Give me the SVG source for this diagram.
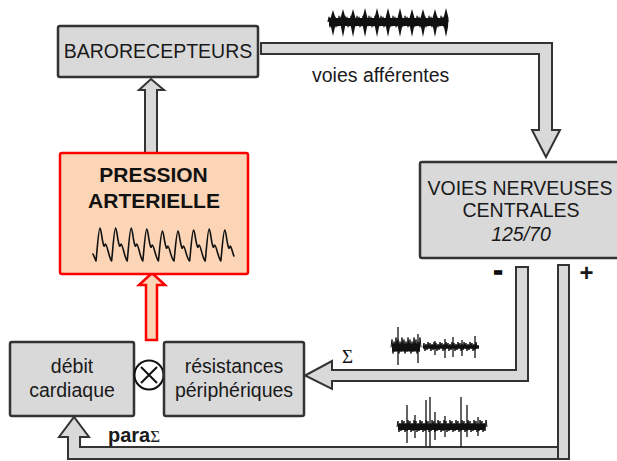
<svg xmlns="http://www.w3.org/2000/svg" width="617" height="461" viewBox="0 0 617 461">
<style>
.box{fill:#d9d9d9;stroke:#333;stroke-width:2.5}
.pipe{fill:#d9d9d9;stroke:#333;stroke-width:2}
.t{font-family:"Liberation Sans",Arial,sans-serif;font-size:19.5px;fill:#1a1a1a;text-anchor:middle}
.b{font-weight:bold;font-size:21px;fill:#111}
.sig{fill:none;stroke:#111;stroke-linejoin:round}
.spk{fill:none;stroke:#111;stroke-width:1.3}
</style>
<rect width="617" height="461" fill="#fff"/>
<g id="connectors">
<path class="pipe" d="M261,43H552V130H560L546,157L532,130H539V54H261Z"/>
<path class="pipe" d="M145,153V90H139L151,79L164,90H157V153Z"/>
<path d="M146,340V285H139L152,273L165,285H157V340Z" fill="#fbd5b5" stroke="#f00" stroke-width="2.5"/>
<path class="pipe" d="M516,267H528V381H332V389L305,375.5L332,361V370H516Z"/>
<path class="pipe" d="M558,265H569V459H68V437H59L74,417L89,437H80V447H558Z"/>
<line x1="558" y1="447" x2="558" y2="459" stroke="#333" stroke-width="2"/>
</g>
<g id="barorecepteurs">
<rect class="box" x="58" y="26" width="200" height="51" rx="2"/>
<text class="t" x="158" y="58">BARORECEPTEURS</text>
</g>
<g id="pression-arterielle">
<rect x="60" y="153" width="188" height="121" rx="2" fill="#fbd5b5" stroke="#f00" stroke-width="2.5"/>
<text class="t b" x="153.5" y="182">PRESSION</text>
<text class="t b" x="154" y="208">ARTERIELLE</text>
<path class="sig" stroke="#222" stroke-width="1.6" stroke-linecap="round" d="M93,254L96,261c1,-8 2.5,-33 4,-33c1.2,0 2,14 4,18c.6,1 1,-2 1.5,-2c1.5,0 3.5,14 6.1,17c1,-8 2.5,-33 4,-33c1.2,0 2,14 4,18c.6,1 1,-2 1.5,-2c1.5,0 3.5,14 6.1,17c1,-8 2.5,-33 4,-33c1.2,0 2,14 4,18c.6,1 1,-2 1.5,-2c1.5,0 3.5,14 6.1,17c1,-8 2.5,-32 4,-32c1.2,0 2,14 4,18c.6,1 1,-2 1.5,-2c1.5,0 3.5,13 6.1,16c1,-8 2.5,-30 4,-30c1.2,0 2,13 4,17c.6,1 1,-2 1.5,-2c1.5,0 3.5,14 6.1,15c1,-8 2.5,-30 4,-30c1.2,0 2,13 4,17c.6,1 1,-2 1.5,-2c1.5,0 3.5,14 6.1,15c1,-8 2.5,-31 4,-31c1.2,0 2,13 4,17c.6,1 1,-2 1.5,-2c1.5,0 3.5,14 6.1,16c1,-8 2.5,-32 4,-32c1.2,0 2,14 4,18c.6,1 1,-2 1.5,-2c1.5,0 3.5,13 6.1,16c1,-8 2.5,-31 4,-31c1.2,0 2,14 4,18c.6,1 1,-2 1.5,-2c1,0 2.5,8 3.6,10"/>
</g>
<g id="voies-nerveuses-centrales">
<rect class="box" x="420" y="162" width="200" height="96" rx="2"/>
<text class="t" x="520" y="195">VOIES NERVEUSES</text>
<text class="t" x="521" y="217">CENTRALES</text>
<text class="t" x="521" y="241" font-style="italic">125/70</text>
</g>
<g id="debit-cardiaque">
<rect class="box" x="10" y="342" width="124" height="74" rx="2"/>
<text class="t" x="72" y="373">débit</text>
<text class="t" x="72" y="397">cardiaque</text>
</g>
<g id="multiplication">
<circle cx="149" cy="375" r="14.5" fill="#fff" stroke="#111" stroke-width="2"/>
<path d="M141,367L157,383M157,367L141,383" stroke="#111" stroke-width="2"/>
</g>
<g id="resistances-peripheriques">
<rect class="box" x="164" y="342" width="140" height="74" rx="2"/>
<text class="t" x="234" y="373">résistances</text>
<text class="t" x="234" y="397">périphériques</text>
</g>
<g id="labels">
<text class="t" x="312" y="82" style="text-anchor:start">voies afférentes</text>
<text class="t" x="498" y="279" font-weight="bold" style="font-size:26px" stroke="#000" stroke-width="1.5">-</text>
<text class="t" x="586.5" y="281" font-weight="bold" style="font-size:24px">+</text>
<text x="342" y="363" font-family="'Liberation Serif',serif" font-size="19" fill="#111">Σ</text>
<text class="t" x="108" y="442" font-weight="bold" style="text-anchor:start;font-size:20px">para<tspan font-weight="normal" font-family="'Liberation Serif',serif" font-size="17">Σ</tspan></text>
</g>
<g id="signal-afferent">
<path d="M329,22H447" stroke="#111" stroke-width="8"/>
<path class="sig" stroke-width="1.2" d="M328,22l1,-5 1,10 1,-8 1,7 1,-10 1,6 1,-5 1,10 1,-8 1,7 1,-10 1,6 1,-5 1,10 1,-8 1,7 1,-10 1,6 1,-5 1,10 1,-8 1,7 1,-10 1,6 1,-5 1,10 1,-8 1,7 1,-10 1,6 1,-5 1,10 1,-8 1,7 1,-10 1,6 1,-5 1,10 1,-8 1,7 1,-10 1,6 1,-5 1,10 1,-8 1,7 1,-10 1,6 1,-5 1,10 1,-8 1,7 1,-10 1,6 1,-5 1,10 1,-8 1,7 1,-10 1,6 1,-5 1,10 1,-8 1,7 1,-10 1,6 1,-5 1,10 1,-8 1,7 1,-10 1,6 1,-5 1,10 1,-8 1,7 1,-10 1,6 1,-5 1,10 1,-8 1,7 1,-10 1,6 1,-5 1,10 1,-8 1,7 1,-10 1,6 1,-5 1,10 1,-8 1,7 1,-10 1,6 1,-5 1,10 1,-8 1,7 1,-10 1,6 1,-5 1,10 1,-8 1,7 1,-10 1,6 1,-5 1,10 1,-8 1,7 1,-10 1,6 1,-5 1,10 1,-8 1,7 1,-10 1,6"/>
<path fill="#111" d="M333,10l2.5,8 -.5,9 -2,9 -2,-9 -.5,-9zM343,9l2.5,9 -.5,9 -2,10 -2,-10 -.5,-9zM353,9l2.5,9 -.5,9 -2,10 -2,-10 -.5,-9zM365,8l2.5,10 -.5,9 -2,10 -2,-10 -.5,-9zM377,8l2.5,10 -.5,9 -2,10 -2,-10 -.5,-9zM388,8l2.5,10 -.5,9 -2,10 -2,-10 -.5,-9zM400,8l2.5,10 -.5,9 -2,10 -2,-10 -.5,-9zM412,9l2.5,9 -.5,9 -2,10 -2,-10 -.5,-9zM423,9l2.5,9 -.5,9 -2,10 -2,-10 -.5,-9zM435,9l2.5,9 -.5,9 -2,10 -2,-10 -.5,-9zM446,8l2.5,10 -.5,9 -2,10 -2,-10 -.5,-9z"/>
</g>
<g id="signal-sympathique">
<path d="M392,347.5H420" stroke="#111" stroke-width="8"/>
<path d="M423,347H479" stroke="#111" stroke-width="3.5"/>
<path class="sig" stroke-width="1" d="M391,347.5l1,-8 1,14 1,-12 1,10 1,-14 1,10 1,-8 1,14 1,-12 1,10 1,-14 1,10 1,-8 1,14 1,-12 1,10 1,-14 1,10 1,-8 1,14 1,-12 1,10 1,-14 1,10 1,-8 1,14 1,-12 1,10 1,-14 1,10M423,347l1,-4 1,8 1,-7 1,6 1,-8 1,5 1,-4 1,8 1,-7 1,6 1,-8 1,5 1,-4 1,8 1,-7 1,6 1,-8 1,5 1,-4 1,8 1,-7 1,6 1,-8 1,5 1,-4 1,8 1,-7 1,6 1,-8 1,5 1,-4 1,8 1,-7 1,6 1,-8 1,5 1,-4 1,8 1,-7 1,6 1,-8 1,5 1,-4 1,8 1,-7 1,6 1,-8 1,5 1,-4 1,8 1,-7 1,6 1,-8 1,5"/>
<path class="spk" d="M398,327V365M418,334V363M435,341V355M445,339V358M453,337V357M462,340V356M475,336V358"/>
</g>
<g id="signal-parasympathique">
<path d="M398,427H485" stroke="#111" stroke-width="6"/>
<path class="sig" stroke-width="1" d="M397,427l1,-6 1,11 1,-9 1,8 1,-11 1,7 1,-6 1,11 1,-9 1,8 1,-11 1,7 1,-6 1,11 1,-9 1,8 1,-11 1,7 1,-6 1,11 1,-9 1,8 1,-11 1,7 1,-6 1,11 1,-9 1,8 1,-11 1,7 1,-6 1,11 1,-9 1,8 1,-11 1,7 1,-6 1,11 1,-9 1,8 1,-11 1,7 1,-6 1,11 1,-9 1,8 1,-11 1,7 1,-6 1,11 1,-9 1,8 1,-11 1,7 1,-6 1,11 1,-9 1,8 1,-11 1,7 1,-6 1,11 1,-9 1,8 1,-11 1,7 1,-6 1,11 1,-9 1,8 1,-11 1,7 1,-6 1,11 1,-9 1,8 1,-11 1,7 1,-6 1,11 1,-9 1,8 1,-11 1,7 1,-6 1,11 1,-9 1,8 1,-11 1,7"/>
<path class="spk" d="M407,405V443M415,415V438M426,400V446M430,397V447M435,412V440M445,416V437M461,397V447M467,405V437M478,417V436"/>
</g>
</svg>
